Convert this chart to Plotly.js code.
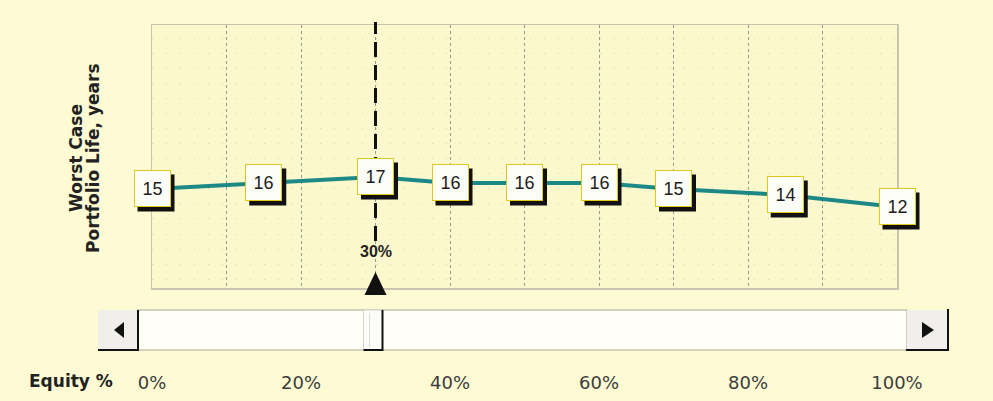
<!DOCTYPE html>
<html>
<head>
<meta charset="utf-8">
<script src="https://cdn.plot.ly/plotly-3.0.1.min.js"></script>
<style>
  html, body { margin:0; padding:0; background:#fefbd4; }
  #chart { width:993px; height:401px; }
</style>
</head>
<body>
<div id="chart"></div>
<script>
// ---- data ----
const equityPct     = [0, 15, 30, 40, 50, 60, 70, 85, 100];
const portfolioLife = [15, 16, 17, 16, 16, 16, 15, 14, 12];
const tickVals  = [0, 10, 20, 30, 40, 50, 60, 70, 80, 90, 100];
const tickText  = ['0%', '', '20%', '', '40%', '', '60%', '', '80%', '', '100%'];
const selectedEquity = 30;
const selectedLabel  = '30%';
const yTitleLines = ['Worst Case', 'Portfolio Life, years'];
const xTitle = 'Equity %';
const xRange = [0, 100];
const yRange = [-1.5, 42.33];

// ---- geometry helpers ----
const W = 993, H = 401;
const M = { l: 152, r: 96, t: 25, b: 113 };
const PW = W - M.l - M.r, PH = H - M.t - M.b;
const px = x => (x - M.l) / PW;            // pixel -> paper
const py = y => (H - M.b - y) / PH;
const xToPaper = v => (v - xRange[0]) / (xRange[1] - xRange[0]);   // axis value -> paper
const yToPaper = v => (v - yRange[0]) / (yRange[1] - yRange[0]);
const unitsPerPx = (xRange[1] - xRange[0]) / PW;

const trace = {
  x: equityPct, y: portfolioLife, type: 'scatter', mode: 'lines',
  line: { color: '#1d8987', width: 4 }, hoverinfo: 'skip', cliponaxis: false
};

const boxFont = { family: 'Liberation Sans, Arial, sans-serif', size: 18, color: '#1c1c1c' };
const annotations = [];
const shapes = [];

equityPct.forEach((x, i) => {
  // drop shadow of the value box (paper-referenced so it is not clipped at the plot edge)
  shapes.push({ type: 'rect', xref: 'paper', yref: 'paper', xsizemode: 'pixel', ysizemode: 'pixel',
    xanchor: xToPaper(x), yanchor: yToPaper(portfolioLife[i]), x0: -14.5, x1: 22.5, y0: -22.5, y1: 14.5,
    fillcolor: '#111111', line: { width: 0 } });
  annotations.push({ x: x, y: portfolioLife[i], xref: 'x', yref: 'y', text: String(portfolioLife[i]),
    showarrow: false, width: 33, height: 33, borderpad: 1, borderwidth: 1,
    bgcolor: '#fdfdf8', bordercolor: '#e2c81a', font: boxFont });
});

annotations.push({ x: selectedEquity, y: py(252), xref: 'x', yref: 'paper', text: selectedLabel,
  showarrow: false, xanchor: 'center', yanchor: 'middle',
  font: { family: 'Liberation Sans Narrow, Liberation Sans, Arial, sans-serif', size: 16, color: '#222', weight: 'bold' } });
annotations.push({ x: px(27), y: py(381), xref: 'paper', yref: 'paper', text: xTitle,
  showarrow: false, xanchor: 'left', yanchor: 'middle',
  font: { family: 'DejaVu Sans, Verdana, sans-serif', size: 17, color: '#222', weight: 'bold' } });
// y-axis title (two lines, rotated)
[76, 93].forEach((cx, i) => {
  annotations.push({ x: px(cx), y: py(158), xref: 'paper', yref: 'paper', text: yTitleLines[i],
    showarrow: false, textangle: -90, xanchor: 'center', yanchor: 'middle',
    font: { family: 'DejaVu Sans, Verdana, sans-serif', size: 17, color: '#222', weight: 'bold' } });
});

shapes.push(
  // selected equity dashed marker line
  { type: 'line', xref: 'x', yref: 'paper', x0: selectedEquity, x1: selectedEquity, y0: py(241), y1: py(22),
    line: { color: '#111', width: 3, dash: '15px,8px' } },
  // triangle pointer
  { type: 'path', xref: 'x', yref: 'paper',
    path: `M ${selectedEquity - 11 * unitsPerPx},${py(295)} L ${selectedEquity + 11 * unitsPerPx},${py(295)} L ${selectedEquity},${py(272)} Z`,
    fillcolor: '#111', line: { width: 0 } },
  // scrollbar track
  { type: 'rect', xref: 'paper', yref: 'paper', x0: px(138), x1: px(907), y0: py(350), y1: py(310),
    fillcolor: '#fffef7', line: { color: '#c6c3b0', width: 1.5 } },
  // left button
  { type: 'rect', xref: 'paper', yref: 'paper', x0: px(98), x1: px(138), y0: py(350), y1: py(310),
    fillcolor: '#f1efeb', line: { width: 0 } },
  { type: 'line', xref: 'paper', yref: 'paper', x0: px(138), x1: px(138), y0: py(351), y1: py(310), line: { color: '#111', width: 2 } },
  { type: 'line', xref: 'paper', yref: 'paper', x0: px(98), x1: px(139), y0: py(350), y1: py(350), line: { color: '#111', width: 2 } },
  { type: 'path', xref: 'paper', yref: 'paper',
    path: `M ${px(114)},${py(330)} L ${px(124)},${py(322)} L ${px(124)},${py(338)} Z`, fillcolor: '#111', line: { width: 0 } },
  // right button
  { type: 'rect', xref: 'paper', yref: 'paper', x0: px(907), x1: px(948), y0: py(350), y1: py(310),
    fillcolor: '#f1efeb', line: { width: 0 } },
  { type: 'line', xref: 'paper', yref: 'paper', x0: px(948), x1: px(948), y0: py(351), y1: py(309), line: { color: '#111', width: 2 } },
  { type: 'line', xref: 'paper', yref: 'paper', x0: px(906), x1: px(949), y0: py(350), y1: py(350), line: { color: '#111', width: 2 } },
  { type: 'path', xref: 'paper', yref: 'paper',
    path: `M ${px(934)},${py(330)} L ${px(922)},${py(322)} L ${px(922)},${py(338)} Z`, fillcolor: '#111', line: { width: 0 } },
  // thumb
  { type: 'rect', xref: 'x', yref: 'paper', x0: selectedEquity - 12 * unitsPerPx, x1: selectedEquity + 7 * unitsPerPx,
    y0: py(350), y1: py(310), fillcolor: '#fcfcf8', line: { color: '#d6d6d0', width: 1 } },
  { type: 'line', xref: 'x', yref: 'paper', x0: selectedEquity - 6 * unitsPerPx, x1: selectedEquity - 6 * unitsPerPx,
    y0: py(347), y1: py(313), line: { color: '#dcdcd6', width: 1 } },
  { type: 'line', xref: 'x', yref: 'paper', x0: selectedEquity + 7 * unitsPerPx, x1: selectedEquity + 7 * unitsPerPx,
    y0: py(351), y1: py(310), line: { color: '#111', width: 2 } },
  { type: 'line', xref: 'x', yref: 'paper', x0: selectedEquity - 12 * unitsPerPx, x1: selectedEquity + 7.5 * unitsPerPx,
    y0: py(350), y1: py(350), line: { color: '#111', width: 2 } }
);

const layout = {
  width: W, height: H,
  paper_bgcolor: '#fefbd4', plot_bgcolor: '#fcf8cd',
  margin: { l: M.l, r: M.r, t: M.t, b: M.b, pad: 0 },
  showlegend: false,
  xaxis: {
    range: xRange, tickvals: tickVals, ticktext: tickText, ticks: '',
    showgrid: true, gridcolor: '#9c998a', gridwidth: 1, griddash: '3px,3px',
    zeroline: false, showline: true, mirror: true, linecolor: '#c8c4b0', linewidth: 1.5,
    ticklabelstandoff: 78,
    tickfont: { family: 'DejaVu Sans, Verdana, sans-serif', size: 18, color: '#3c3c3c' },
    fixedrange: true, automargin: false
  },
  yaxis: {
    range: yRange, showticklabels: false, ticks: '',
    tick0: 0, dtick: 2.5, showgrid: true, gridcolor: '#ddd6a4', gridwidth: 1, griddash: '1px,13px',
    zeroline: false, showline: true, mirror: true, linecolor: '#c8c4b0', linewidth: 1.5,
    fixedrange: true, automargin: false
  },
  annotations: annotations,
  shapes: shapes
};

Plotly.newPlot('chart', [trace], layout, { staticPlot: true, displayModeBar: false });
</script>
</body>
</html>
